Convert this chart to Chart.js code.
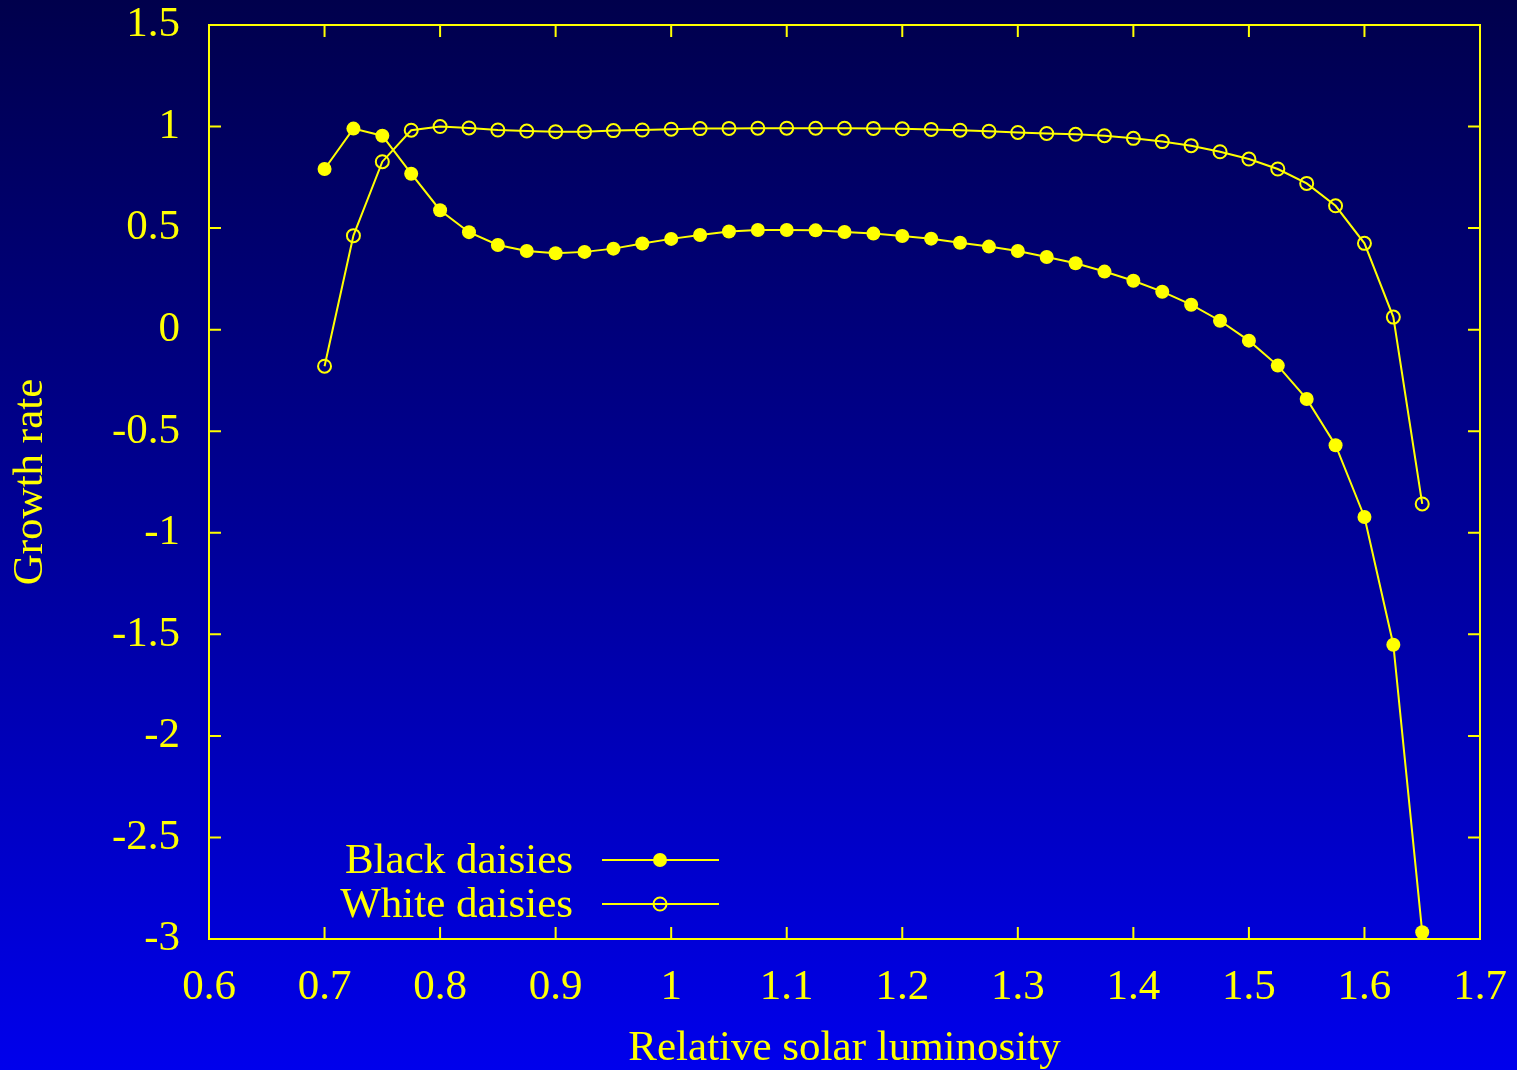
<!DOCTYPE html>
<html>
<head>
<meta charset="utf-8">
<script src="https://cdn.jsdelivr.net/npm/chart.js@4"></script>
<style>
  html, body { margin: 0; padding: 0; }
  body { width: 1517px; height: 1070px; overflow: hidden;
         background: linear-gradient(to bottom, #00004c 0%, #000098 50%, #0000ec 100%); }
  #wrap { position: relative; width: 1517px; height: 1070px; }
</style>
</head>
<body>
<div id="wrap"><canvas id="daisyChart" width="1517" height="1070"></canvas></div>
<script>
// Relative solar luminosity (x) and growth rates
const luminosity = [0.7, 0.725, 0.75, 0.775, 0.8, 0.825, 0.85, 0.875, 0.9, 0.925, 0.95, 0.975, 1.0,
  1.025, 1.05, 1.075, 1.1, 1.125, 1.15, 1.175, 1.2, 1.225, 1.25, 1.275, 1.3, 1.325, 1.35, 1.375,
  1.4, 1.425, 1.45, 1.475, 1.5, 1.525, 1.55, 1.575, 1.6, 1.625, 1.65];
const blackDaisies = [0.791, 0.99, 0.955, 0.768, 0.588, 0.48, 0.417, 0.387, 0.376, 0.383, 0.399, 0.424, 0.447,
  0.466, 0.483, 0.491, 0.491, 0.489, 0.481, 0.473, 0.461, 0.448, 0.428, 0.409, 0.387, 0.358, 0.327, 0.286,
  0.241, 0.187, 0.123, 0.044, -0.054, -0.177, -0.341, -0.569, -0.922, -1.551, -2.967];
const whiteDaisies = [-0.18, 0.463, 0.827, 0.982, 1.0, 0.993, 0.983, 0.978, 0.975, 0.975, 0.98, 0.983, 0.987,
  0.99, 0.991, 0.992, 0.992, 0.992, 0.992, 0.991, 0.989, 0.986, 0.982, 0.977, 0.971, 0.966, 0.962, 0.955,
  0.942, 0.926, 0.906, 0.876, 0.84, 0.791, 0.72, 0.61, 0.425, 0.062, -0.858];
const seriesNames = ['Black daisies', 'White daisies'];
const xTicks = [0.6, 0.7, 0.8, 0.9, 1.0, 1.1, 1.2, 1.3, 1.4, 1.5, 1.6, 1.7];
const yTicks = [-3, -2.5, -2, -1.5, -1, -0.5, 0, 0.5, 1, 1.5];

const YELLOW = '#ffff00';
const FONT = '"Liberation Serif", "DejaVu Serif", serif';
const FS = 43;

const toPoints = ys => luminosity.map((x, i) => ({ x: x, y: ys[i] }));
const fmt = v => String(Math.round(v * 10) / 10);

// gnuplot style frame with inward ticks on all four sides, plus the legend
const framePlugin = {
  id: 'frame',
  beforeDatasetsDraw(chart) {
    const { ctx, chartArea: a, scales } = chart;
    const len = 12;
    ctx.save();
    ctx.strokeStyle = YELLOW;
    ctx.lineWidth = 2;
    ctx.strokeRect(a.left, a.top, a.right - a.left, a.bottom - a.top);
    ctx.beginPath();
    xTicks.forEach(v => {
      const px = scales.x.getPixelForValue(v);
      ctx.moveTo(px, a.bottom); ctx.lineTo(px, a.bottom - len);
      ctx.moveTo(px, a.top); ctx.lineTo(px, a.top + len);
    });
    yTicks.forEach(v => {
      const py = scales.y.getPixelForValue(v);
      ctx.moveTo(a.left, py); ctx.lineTo(a.left + len, py);
      ctx.moveTo(a.right, py); ctx.lineTo(a.right - len, py);
    });
    ctx.stroke();
    ctx.restore();
  },
  afterDraw(chart) {
    const { ctx, chartArea: a } = chart;
    ctx.save();
    ctx.font = FS + 'px ' + FONT;
    ctx.textAlign = 'right';
    ctx.textBaseline = 'middle';
    chart.data.datasets.forEach((ds, i) => {
      const y = a.bottom - 79 + i * 44;
      ctx.fillStyle = YELLOW;
      ctx.fillText(ds.label, a.left + 364, y + 2);
      ctx.strokeStyle = YELLOW;
      ctx.lineWidth = 2;
      ctx.beginPath();
      ctx.moveTo(a.left + 393, y); ctx.lineTo(a.left + 510, y);
      ctx.stroke();
      ctx.beginPath();
      ctx.arc(a.left + 451, y, i === 0 ? 7 : 6.5, 0, Math.PI * 2);
      if (i === 0) ctx.fill(); else ctx.stroke();
    });
    ctx.restore();
  }
};

const ctx = document.getElementById('daisyChart').getContext('2d');
new Chart(ctx, {
  type: 'scatter',
  data: {
    datasets: [{
      label: seriesNames[0],
      data: toPoints(blackDaisies),
      showLine: true,
      borderColor: YELLOW,
      borderWidth: 2,
      pointRadius: 7,
      pointBackgroundColor: YELLOW,
      pointBorderColor: YELLOW,
      pointBorderWidth: 0,
      clip: false
    }, {
      label: seriesNames[1],
      data: toPoints(whiteDaisies),
      showLine: true,
      borderColor: YELLOW,
      borderWidth: 2,
      pointRadius: 6.5,
      pointBackgroundColor: 'rgba(0,0,0,0)',
      pointBorderColor: YELLOW,
      pointBorderWidth: 2,
      clip: false
    }]
  },
  options: {
    responsive: false,
    animation: false,
    layout: { padding: { top: 25, right: 37, left: 0, bottom: 0 } },
    plugins: { legend: { display: false }, tooltip: { enabled: false } },
    scales: {
      x: {
        type: 'linear',
        min: 0.6, max: 1.7,
        afterBuildTicks: s => { s.ticks = xTicks.map(v => ({ value: v })); },
        afterFit: s => { s.height = 131; s.paddingLeft = 0; s.paddingRight = 0; },
        border: { display: false },
        grid: { display: false, drawTicks: false },
        ticks: { color: YELLOW, padding: 23, maxRotation: 0, autoSkip: false,
                 font: { family: FONT, size: FS }, callback: v => fmt(v) },
        title: { display: true, text: 'Relative solar luminosity', color: YELLOW,
                 font: { family: FONT, size: FS, lineHeight: 1 }, padding: { top: 0, bottom: 0 } }
      },
      y: {
        type: 'linear',
        min: -3, max: 1.5,
        afterBuildTicks: s => { s.ticks = yTicks.map(v => ({ value: v })); },
        afterFit: s => { s.width = 209; s.paddingTop = 0; s.paddingBottom = 0; },
        border: { display: false },
        grid: { display: false, drawTicks: false },
        ticks: { color: YELLOW, padding: 29, autoSkip: false,
                 font: { family: FONT, size: FS }, callback: v => fmt(v) },
        title: { display: true, text: 'Growth rate', color: YELLOW,
                 font: { family: FONT, size: FS, lineHeight: 1 }, padding: { top: 9, bottom: 0 } }
      }
    }
  },
  plugins: [framePlugin]
});
</script>
</body>
</html>
